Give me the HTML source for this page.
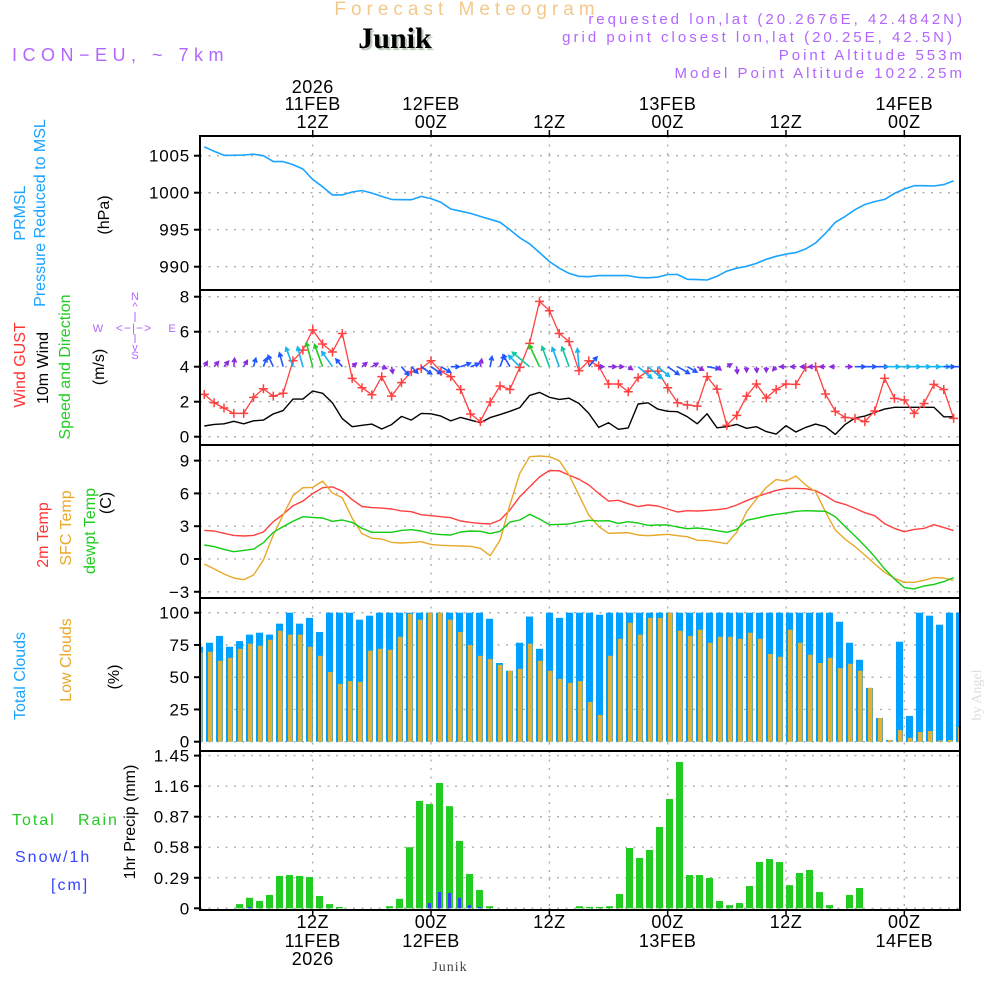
<!DOCTYPE html>
<html><head><meta charset="utf-8"><title>Forecast Meteogram Junik</title>
<style>
html,body{margin:0;padding:0;background:#fff;}
svg{display:block;font-family:"Liberation Sans",sans-serif;}
</style></head>
<body>
<svg id="chart" width="1000" height="1000" viewBox="0 0 1000 1000" xmlns="http://www.w3.org/2000/svg">
<defs>
<clipPath id="c1"><rect x="200" y="136" width="760" height="154"/></clipPath>
<clipPath id="c2"><rect x="200" y="290" width="760" height="155"/></clipPath>
<clipPath id="c3"><rect x="200" y="445" width="760" height="153"/></clipPath>
<clipPath id="c4"><rect x="200" y="598" width="760" height="153"/></clipPath>
<clipPath id="c5"><rect x="200" y="751" width="760" height="159"/></clipPath>
</defs>
<!-- header -->
<text x="467" y="15" text-anchor="middle" font-size="19" fill="#f3c98a" letter-spacing="5">Forecast Meteogram</text>
<text x="395" y="48" text-anchor="middle" font-size="30" font-weight="bold" font-family="Liberation Serif, serif" fill="#000" style="text-shadow:2px 2px 1px #b8c8b8">Junik</text>
<text x="12" y="61" font-size="18" fill="#b266ff" letter-spacing="5.5">ICON−EU, ~ 7km</text>
<g font-size="15" fill="#b266ff" text-anchor="end" letter-spacing="3">
<text x="965" y="24">requested lon,lat (20.2676E, 42.4842N)</text>
<text x="955" y="42">grid point closest lon,lat (20.25E, 42.5N)</text>
<text x="965" y="60">Point Altitude 553m</text>
<text x="965" y="78">Model Point Altitude 1022.25m</text>
</g>
<!-- left labels -->
<g font-size="16">
<text transform="translate(25,213) rotate(-90)" text-anchor="middle" fill="#1aa3ff">PRMSL</text>
<text transform="translate(45,213) rotate(-90)" text-anchor="middle" fill="#1aa3ff">Pressure Reduced to MSL</text>
<text transform="translate(109,215) rotate(-90)" text-anchor="middle" fill="#000">(hPa)</text>
</g>
<g font-size="16">
<text transform="translate(25,365) rotate(-90)" text-anchor="middle" fill="#ff3333">Wind GUST</text>
<text transform="translate(48,368) rotate(-90)" text-anchor="middle" fill="#000">10m Wind</text>
<text transform="translate(70,367) rotate(-90)" text-anchor="middle" fill="#22cc22">Speed and Direction</text>
<text transform="translate(104,367) rotate(-90)" text-anchor="middle" fill="#000">(m/s)</text>
</g>
<g font-size="11" fill="#b266ff" text-anchor="middle">
<text x="135" y="300">N</text><text x="135" y="359">S</text><text x="98" y="332">W</text><text x="172" y="332">E</text>
<text x="135" y="310">^</text><text x="135" y="351">v</text>
<text x="134" y="332" font-size="12" letter-spacing="1">&lt;−|−&gt;</text>
<line x1="135" y1="312" x2="135" y2="322" stroke="#b266ff" stroke-width="1"/>
<line x1="135" y1="334" x2="135" y2="343" stroke="#b266ff" stroke-width="1"/>
</g>
<g font-size="16">
<text transform="translate(48,535) rotate(-90)" text-anchor="middle" fill="#ff3333">2m Temp</text>
<text transform="translate(71,528) rotate(-90)" text-anchor="middle" fill="#e8a82a">SFC Temp</text>
<text transform="translate(95,531) rotate(-90)" text-anchor="middle" fill="#22cc22">dewpt Temp</text>
<text transform="translate(111,503) rotate(-90)" text-anchor="middle" fill="#000">(C)</text>
</g>
<g font-size="16">
<text transform="translate(25,676) rotate(-90)" text-anchor="middle" fill="#1aa3ff">Total Clouds</text>
<text transform="translate(71,660) rotate(-90)" text-anchor="middle" fill="#e8a82a">Low Clouds</text>
<text transform="translate(119,677) rotate(-90)" text-anchor="middle" fill="#000">(%)</text>
</g>
<g font-size="16">
<text transform="translate(135,822) rotate(-90)" text-anchor="middle" fill="#000">1hr Precip (mm)</text>
<text x="12" y="825" fill="#22cc22" letter-spacing="2">Total<tspan x="78">Rain</tspan></text>
<text x="15" y="862" fill="#3344ff" letter-spacing="2">Snow/1h</text>
<text x="51" y="890" fill="#3344ff" letter-spacing="2">[cm]</text>
</g>
<text x="450" y="971" text-anchor="middle" font-size="14" font-family="Liberation Serif, serif" fill="#444" letter-spacing="1">Junik</text>
<text transform="translate(981,695) rotate(-90)" text-anchor="middle" font-size="14" font-family="Liberation Serif, serif" fill="#ddd">by Angel</text>
<g id="plot"></g>
</svg>
<script>
// ---- data (hourly, starting 01Z 11FEB) ----
const pressure = [1006.2,1005.6,1005.05,1005.05,1005.1,1005.2,1005,1004.2,1004.2,1003.8,1003.2,1001.8,1000.8,999.7,999.7,1000.1,1000.3,999.95,999.5,999.1,999.05,999.05,999.5,999.2,998.7,997.8,997.5,997.2,996.8,996.4,996,995,993.9,993.1,991.9,990.7,989.8,989.1,988.7,988.65,988.8,988.8,988.8,988.8,988.55,988.5,988.6,988.95,988.95,988.3,988.25,988.2,988.7,989.4,989.8,990.05,990.45,991,991.4,991.7,991.9,992.4,993.2,994.5,996,996.8,997.7,998.4,998.8,999.1,999.9,1000.5,1000.95,1000.95,1000.9,1001.1,1001.6];
const wind10 = [0.61,0.7,0.74,0.88,0.74,0.91,0.95,1.3,1.49,2.15,2.15,2.61,2.48,1.94,1.03,0.57,0.65,0.72,0.44,0.69,1.16,0.95,1.33,1.31,1.18,0.9,1.1,0.95,0.8,1.09,1.26,1.45,1.66,2.36,2.53,2.25,2.13,2.2,1.9,1.33,0.53,0.8,0.42,0.5,1.87,1.94,1.58,1.45,1.43,1.14,0.74,1.31,0.51,0.57,0.7,0.48,0.57,0.29,0.15,0.63,0.27,0.53,0.72,0.57,0.13,0.7,1.07,1.18,1.39,1.58,1.68,1.68,1.68,1.68,1.68,1.14,1.14];
const gust = [2.42,1.94,1.64,1.33,1.33,2.25,2.74,2.32,2.48,4.34,4.95,6.1,5.3,4.84,5.9,3.33,2.8,2.4,3.43,2.32,3.09,3.71,3.89,4.34,3.73,3.43,2.7,1.3,0.86,1.98,2.9,2.7,3.96,5.33,7.73,7.2,5.9,5.43,3.77,4.34,4.04,3.01,3.01,2.57,3.37,3.75,3.75,2.8,1.94,1.81,1.75,3.43,2.72,0.65,1.22,2.32,3.01,2.21,2.7,3.01,2.99,3.96,4.0,2.44,1.45,1.1,1.05,0.86,1.47,3.33,2.19,2.1,1.33,1.9,2.99,2.7,1.05];
const windDir = [30,40,40,5,30,15,20,-25,-15,-20,-15,-15,-20,-35,-40,50,50,60,110,170,140,135,125,125,120,90,70,70,10,10,20,-30,-45,-50,-25,-20,-20,-20,-5,40,90,90,90,125,130,130,130,125,120,120,120,100,130,60,175,180,175,180,220,270,270,270,270,270,270,90,90,90,90,90,90,90,90,90,90,90,90];
const t2m = [2.62,2.56,2.35,2.16,2.1,2.16,2.47,3.41,4.09,4.88,5.3,5.98,6.52,6.6,6.2,5.43,4.8,4.7,4.66,4.57,4.4,4.33,4.05,3.96,3.87,3.78,3.48,3.35,3.26,3.2,3.57,4.48,5.7,6.6,7.5,8.1,8.07,7.68,7.3,6.77,6.0,5.3,5.37,5.06,4.79,4.94,4.85,4.57,4.3,4.42,4.39,4.45,4.51,4.63,4.94,5.33,5.7,5.98,6.28,6.46,6.46,6.43,6.25,5.8,5.24,5.0,4.63,4.24,3.96,3.23,2.8,2.5,2.71,2.8,3.14,2.87,2.6];
const tsfc = [-0.46,-0.91,-1.37,-1.74,-1.89,-1.46,-0.09,2.2,4.02,5.79,6.52,6.55,7.13,6.04,5.6,3.72,2.32,1.89,1.83,1.52,1.46,1.52,1.58,1.34,1.25,1.22,1.19,1.16,0.98,0.3,1.74,4.94,7.84,9.36,9.42,9.36,9.0,7.68,5.85,4.02,2.96,2.35,2.38,2.41,2.2,2.13,2.2,2.26,2.13,2.04,1.71,1.68,1.55,1.4,2.44,4.33,5.49,6.55,7.26,7.13,7.59,6.77,6.16,4.33,2.65,1.8,1.13,0.37,-0.46,-1.22,-1.77,-2.13,-2.13,-1.95,-1.7,-1.74,-1.95];
const tdew = [1.28,1.13,0.88,0.67,0.79,0.91,1.49,2.44,2.96,3.45,3.87,3.81,3.75,3.45,3.57,3.35,2.8,2.44,2.44,2.44,2.62,2.68,2.56,2.32,2.23,2.2,2.47,2.56,2.53,2.32,2.53,3.38,3.57,4.09,3.66,3.14,3.17,3.2,3.4,3.54,3.48,3.5,3.26,3.41,3.29,3.08,3.11,3.11,2.93,2.77,2.84,2.74,2.59,2.44,2.71,3.54,3.72,3.93,4.09,4.2,4.36,4.42,4.39,4.36,3.87,2.96,2.1,1.19,0.21,-0.91,-1.83,-2.62,-2.74,-2.47,-2.32,-2.07,-1.7];
const totalClouds = [73.6,76.7,82,73.6,78,83,84.5,83,91.5,100,91.5,96,85,100,100,100,94.6,97.7,100,100,100,100,100,100,100,100,100,100,100,95.3,61,55,76.7,97,72,100,96,100,100,100,98.4,100,100,100,100,100,100,100,100,100,100,100,100,100,100,100,100,100,100,100,100,100,100,100,93,76.7,63.5,41.7,18.4,1.3,77.5,20,100,97.7,90.7,100,100];
const lowClouds = [69,69.7,62.7,65,72,76,74.4,79,86,83,83,73.6,66.6,54,44.8,47,46.4,70.5,72,71.2,81.3,99.2,94.6,100,100,94.6,85,75,66.6,64,59.6,55,56.5,76,62.7,55,48.7,45.6,47,30.8,20.7,66.6,79.8,92.2,83,96,96,100,86,82,86.8,76.7,81.3,81.3,79.8,84.5,79.8,68,65.8,86.8,76.7,67.4,61,65,57,60.4,55,41.7,18.4,1.3,9,3,7.5,8.3,1,1.3,11.4];
const rain = [0,0,0,0,0.04,0.1,0.07,0.127,0.307,0.316,0.307,0.297,0.117,0.04,0.013,0,0,0,0,0.02,0.09,0.58,1.02,0.99,1.19,0.97,0.64,0.326,0.174,0.02,0,0,0,0,0,0,0,0,0.02,0.013,0.013,0.02,0.136,0.573,0.478,0.554,0.772,1.038,1.39,0.316,0.316,0.288,0.07,0.03,0.05,0.212,0.44,0.468,0.44,0.22,0.335,0.364,0.155,0.03,0,0.127,0.193,0,0,0,0,0,0,0,0,0,0];
const snow = [0,0,0,0,0,0.013,0,0,0,0,0,0,0,0,0,0,0,0,0,0,0,0,0,0.05,0.155,0.145,0.1,0.03,0.013,0,0,0,0,0,0,0,0,0,0,0,0,0,0,0,0,0,0,0,0,0,0,0,0,0,0,0,0,0,0,0,0,0,0,0,0,0,0,0,0,0,0,0,0,0,0,0,0];
const tickHours = [12,24,36,48,60,72];
const tickHourLabels = ["12Z","00Z","12Z","00Z","12Z","00Z"];
const tickDayLabels = ["11FEB","12FEB","","13FEB","","14FEB"];
const tickYearLabels = ["2026","","","","",""];
const pTicks = [1005,1000,995,990];
const wTicks = [0,2,4,6,8];
const tTicks = [-3,0,3,6,9];
const cTicks = [0,25,50,75,100];
const rTicks = [0,0.29,0.58,0.87,1.16,1.45];

// ---- scales ----
const X0 = 200, X1 = 960;
const xh = h => 194.4 + 9.86*h;
const xPt = j => xh(j+1);
const xBar = k => 199.5 + 10*k;
const yP = v => 155.7 + (1005 - v)*7.4;
const yW = v => 436.7 - v*17.5;
const yT = v => 559 - v*10.93;
const yC = v => 741.7 - v*1.29;
const yR = v => 908.3 - v*105.3;
const panels = [[136,290,'c1'],[290,445,'c2'],[445,598,'c3'],[598,751,'c4'],[751,910,'c5']];

const NS = "http://www.w3.org/2000/svg";
const plot = document.getElementById('plot');
function mk(tag, attrs, parent){
  const e = document.createElementNS(NS, tag);
  for (const k in attrs) e.setAttribute(k, attrs[k]);
  (parent||plot).appendChild(e);
  return e;
}
function group(name, clip){
  const g = mk('g', clip ? {'clip-path':'url(#'+clip+')'} : {});
  
  
  return g;
}
const dot = {stroke:'#aaa','stroke-width':1.3,'stroke-dasharray':'2 6.5',fill:'none'};

// ---- grids ----
const grid = group('grid-lines');
panels.forEach(p=>{
  tickHours.forEach(h=>{
    const l = mk('line', Object.assign({x1:xh(h),x2:xh(h),y1:p[0],y2:p[1]}, dot), grid);
    
    
  });
});
function hgrid(ticks, ys, fmt, name){
  const g = group(name);
  ticks.forEach(v=>{
    const y = ys(v);
    const l = mk('line', Object.assign({x1:X0,x2:X1,y1:y,y2:y}, dot), g);
    
    
    const tk = mk('line',{x1:194,x2:200,y1:y,y2:y,stroke:'#000','stroke-width':2}, g);
    
    
    const t = mk('text',{x:190,y:y+6,'text-anchor':'end','font-size':17,'letter-spacing':0.8,fill:'#000'}, g);
    
    
    t.textContent = fmt(v);
  });
}
hgrid(pTicks, yP, v=>String(v), 'pressure-y-axis');
hgrid(wTicks, yW, v=>String(v), 'wind-y-axis');
hgrid(tTicks, yT, v=>v<0?('−'+(-v)):String(v), 'temp-y-axis');
hgrid(cTicks, yC, v=>String(v), 'cloud-y-axis');
hgrid(rTicks, yR, v=>String(v), 'precip-y-axis');

function polyline(vals, ys, color, name, clip, w){
  const g = group(name, clip);
  const pts = vals.map((v,j)=>xPt(j).toFixed(1)+','+ys(v).toFixed(1)).join(' ');
  const pl = mk('polyline',{points:pts,fill:'none',stroke:color,'stroke-width':w||1.5,'stroke-linejoin':'round'}, g);
  
  
  return g;
}

// ---- pressure ----
polyline(pressure, yP, '#1aa3ff', 'pressure-series', 'c1', 1.6);

// ---- wind ----
polyline(wind10, yW, '#000', 'wind10-series', 'c2', 1.4);
const gg = polyline(gust, yW, '#ff4040', 'gust-series', 'c2', 1.3);
gust.forEach((v,j)=>{
  const x = xPt(j), y = yW(v);
  const m = mk('path',{d:`M${x-4.5},${y}H${x+4.5}M${x},${y-4.5}V${y+4.5}`,stroke:'#ff4040','stroke-width':1.5,fill:'none'}, gg);
  
  
});
function spdColor(s){
  if (s < 0.9) return '#8a2be2';
  if (s < 1.5) return '#2255ff';
  if (s < 2.2) return '#14b4f0';
  if (s < 2.45) return '#10c8a0';
  return '#22cc22';
}
const ag = group('wind-arrows','c2');
windDir.forEach((d,j)=>{
  const s = wind10[j];
  const L = Math.max(5, s*9.5);
  const x = xPt(j), y = yW(4);
  const a = d*Math.PI/180;
  const x2 = x + L*Math.sin(a), y2 = y - L*Math.cos(a);
  const hl = 4.5, ha = 0.5;
  const b1 = a + Math.PI - ha, b2 = a + Math.PI + ha;
  const path = `M${x},${y}L${x2},${y2}M${x2+hl*Math.sin(b1)},${y2-hl*Math.cos(b1)}L${x2},${y2}L${x2+hl*Math.sin(b2)},${y2-hl*Math.cos(b2)}`;
  const p = mk('path',{d:path,stroke:spdColor(s),'stroke-width':1.6,fill:'none'}, ag);
  
  
});

// ---- temperature ----
polyline(t2m, yT, '#ff4040', 't2m-series', 'c3', 1.4);
polyline(tsfc, yT, '#e8a82a', 'sfc-temp-series', 'c3', 1.4);
polyline(tdew, yT, '#11cc11', 'dewpoint-series', 'c3', 1.4);

// ---- clouds ----
const cg = group('cloud-bars','c4');
totalClouds.forEach((v,k)=>{
  const x = xBar(k), y = yC(v);
  const r = mk('rect',{x:x-3.5,y:y,width:7,height:Math.max(0,yC(0)-y),fill:'#00a0ff'}, cg);
  
  
});
lowClouds.forEach((v,k)=>{
  const x = xBar(k), y = yC(v);
  const r = mk('rect',{x:x-1.5,y:y,width:4.5,height:Math.max(0,yC(0)-y),fill:'#e8b030'}, cg);
  
  
});

// ---- precipitation ----
const rg = group('precip-bars','c5');
rain.forEach((v,k)=>{
  if (v<=0) return;
  const x = xBar(k), y = yR(v);
  const r = mk('rect',{x:x-3.5,y:y,width:7,height:yR(0)-y,fill:'#22cc22'}, rg);
  
  
});
snow.forEach((v,k)=>{
  if (v<=0) return;
  const x = xBar(k), y = yR(v);
  const r = mk('rect',{x:x-1.5,y:y,width:3,height:yR(0)-y,fill:'#3344ff'}, rg);
  
  
});

// ---- frames ----
const fg = group('panel-frames');
panels.forEach(p=>{
  const r = mk('rect',{x:X0,y:p[0],width:X1-X0,height:p[1]-p[0],fill:'none',stroke:'#000','stroke-width':2}, fg);
  
  
});

// ---- time axes ----
const tg = group('time-axis-top');
const bg = group('time-axis-bottom');
tickHours.forEach((h,i)=>{
  const x = xh(h);
  mk('line',{x1:x,x2:x,y1:130,y2:136,stroke:'#000','stroke-width':1.5}, tg);
  mk('line',{x1:x,x2:x,y1:910,y2:916,stroke:'#000','stroke-width':1.5}, bg);
  const lines = [[tickYearLabels[i],93,959],[tickDayLabels[i],110,941],[tickHourLabels[i],128,922]];
  lines.forEach(L=>{
    if (!L[0]) return;
    const t1 = mk('text',{x:x,y:L[1],'text-anchor':'middle','font-size':18,'letter-spacing':0.5,fill:'#000'}, tg);
    
    
    t1.textContent = L[0];
    const t2 = mk('text',{x:x,y:L[2]+6,'text-anchor':'middle','font-size':18,'letter-spacing':0.5,fill:'#000'}, bg);
    
    
    t2.textContent = L[0];
  });
});
</script>
</body></html>
